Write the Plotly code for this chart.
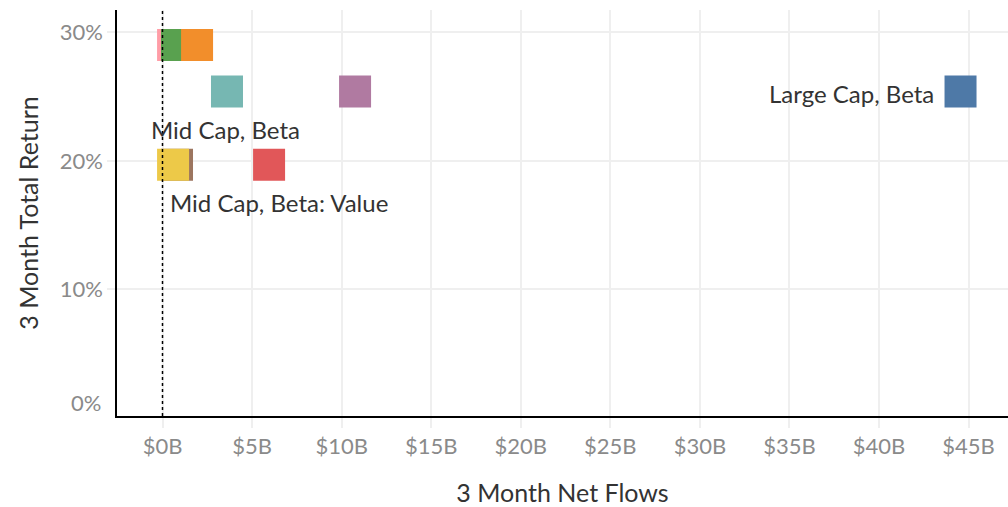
import plotly.graph_objects as go

# Data
names = ["Segment 1", "Segment 2", "Segment 3", "Mid Cap, Beta", "Segment 5",
         "Segment 6", "Mid Cap, Beta: Value (B)", "Mid Cap, Beta: Value", "Large Cap, Beta"]
net_flows_b = [0.59, 0.81, 1.93, 3.6, 10.75, 0.81, 0.59, 5.95, 44.55]
total_return_pct = [29.0, 29.0, 29.0, 25.4, 25.4, 19.7, 19.7, 19.7, 25.4]
colors = ["#FF9DA7", "#59A14F", "#F28E2B", "#76B7B2", "#B07AA1",
          "#9C755F", "#EDC948", "#E15759", "#4E79A7"]

x_ticks = [0, 5, 10, 15, 20, 25, 30, 35, 40, 45]
x_tick_text = ["$%dB" % v for v in x_ticks]
y_ticks = [0, 10, 20, 30]
y_tick_text = ["%d%%" % v for v in y_ticks]

label_text = ["Mid Cap, Beta", "Mid Cap, Beta: Value", "Large Cap, Beta"]
label_idx = [3, 7, 8]

FONT = "Lato"
TICK_COLOR = "#8a8a8a"
fig = go.Figure()
fig.add_trace(go.Scatter(
    x=net_flows_b, y=total_return_pct, mode="markers",
    text=names, hoverinfo="text",
    marker=dict(symbol="square", size=32, color=colors, line=dict(width=0), opacity=1),
    showlegend=False,
))

fig.add_shape(type="line", xref="x", yref="paper", x0=0, x1=0, y0=0, y1=1,
              line=dict(color="black", width=1.5, dash="dot"), layer="above")

anns = []
shifts = {3: dict(xanchor="center", xshift=-1, yshift=-38),
          7: dict(xanchor="center", xshift=10, yshift=-38),
          8: dict(xanchor="right", xshift=-25, yshift=-2)}
for t, i in zip(label_text, label_idx):
    s = shifts[i]
    anns.append(dict(x=net_flows_b[i], y=total_return_pct[i], text=t, showarrow=False,
                     xanchor=s["xanchor"], yanchor="middle", xshift=s["xshift"], yshift=s["yshift"],
                     font=dict(family=FONT, size=24, color="#333333")))

# 0% label sits just above the bottom edge (pulled inside like the reference)
anns.append(dict(x=0, xref="paper", y=0, yref="paper", text=y_tick_text[0], showarrow=False,
                 xanchor="right", yanchor="middle", xshift=-14, yshift=14,
                 font=dict(family=FONT, size=22, color=TICK_COLOR)))

fig.update_layout(
    width=1008, height=507,
    margin=dict(l=117, r=0, t=10, b=91),
    plot_bgcolor="white", paper_bgcolor="white",
    annotations=anns,
    font=dict(family=FONT),
    xaxis=dict(range=[-2.54, 47.2], tickvals=x_ticks, ticktext=x_tick_text,
               showgrid=True, gridcolor="#efefef", gridwidth=2,
               ticks="outside", ticklen=10, tickcolor="#efefef", tickwidth=2,
               showline=True, linecolor="black", linewidth=1.5,
               zeroline=False, ticklabelstandoff=0, automargin=False,
               tickfont=dict(family=FONT, size=22, color=TICK_COLOR),
               title=dict(text="3 Month Net Flows", standoff=30,
                          font=dict(family=FONT, size=25, color="#333333"))),
    yaxis=dict(range=[0.16, 31.73], tickvals=y_ticks[1:], ticktext=y_tick_text[1:],
               showgrid=True, gridcolor="#efefef", gridwidth=2,
               ticks="outside", ticklen=8, tickcolor="#efefef", tickwidth=2,
               showline=True, linecolor="black", linewidth=1.5,
               zeroline=False, automargin=False,
               tickfont=dict(family=FONT, size=22, color=TICK_COLOR),
               title=dict(text="3 Month Total Return", standoff=14,
                          font=dict(family=FONT, size=25, color="#333333"))),
)

fig.write_html("out.html", config={"displayModeBar": False},
               post_script="document.body.style.margin='0';")
